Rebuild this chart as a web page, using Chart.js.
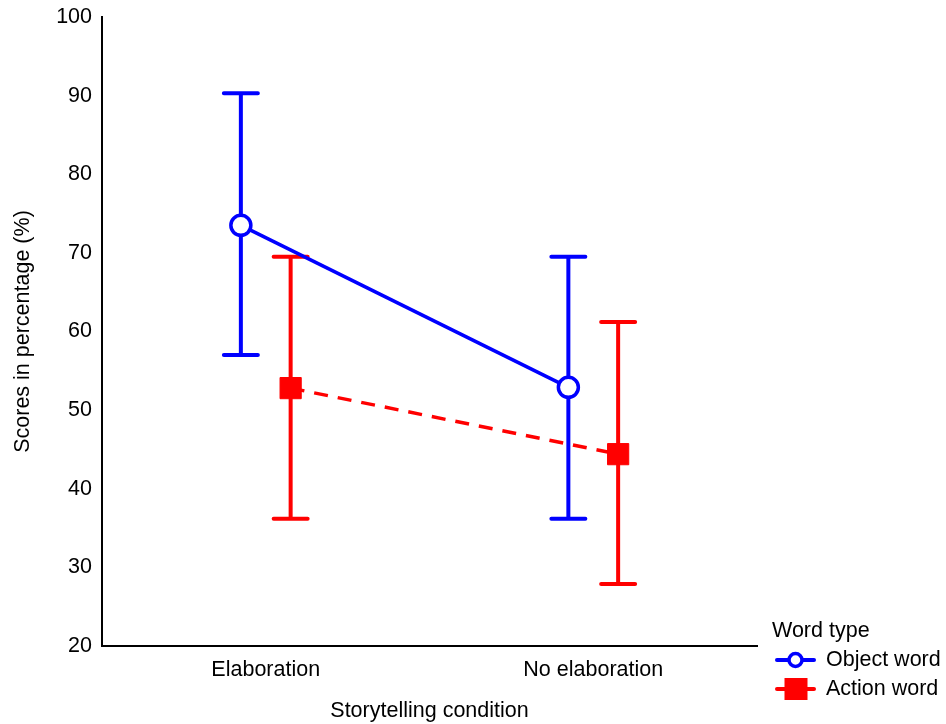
<!DOCTYPE html>
<html>
<head>
    <title>Storytelling condition</title>
    <script src="https://cdn.jsdelivr.net/npm/chart.js"></script>
    <style>
        html, body { margin: 0; padding: 0; background: #fff; }
        #wrap { width: 946px; height: 724px; position: relative; }
    </style>
</head>
<body>
    <div id="wrap"><canvas id="chart"></canvas></div>

    <script>
        // 数据
        const categories = ['Elaboration', 'No elaboration'];
        const seriesNames = ['Object word', 'Action word'];
        const objectMean = [73.5, 52.9];
        const objectUpper = [90.3, 69.5];
        const objectLower = [57.0, 36.2];
        const actionMean = [52.8, 44.4];
        const actionUpper = [69.5, 61.2];
        const actionLower = [36.2, 27.9];
        const yTicks = [20, 30, 40, 50, 60, 70, 80, 90, 100];
        const dodge = 0.076;

        const FONT = 'Liberation Sans, Arial, sans-serif';
        const FS = 21.5;

        function points(mean, upper, lower, shift) {
            return mean.map((m, i) => ({ x: i + 1 + shift, y: m, hi: upper[i], lo: lower[i] }));
        }

        // 误差线
        const errorBars = {
            id: 'errorBars',
            beforeDatasetsDraw(chart) {
                const ctx = chart.ctx;
                const xs = chart.scales.x, ys = chart.scales.y;
                chart.data.datasets.forEach(ds => {
                    ctx.save();
                    ctx.strokeStyle = ds.borderColor;
                    ctx.lineWidth = 4;
                    ctx.lineCap = 'round';
                    ds.data.forEach(p => {
                        const px = xs.getPixelForValue(p.x);
                        const top = ys.getPixelForValue(p.hi);
                        const bot = ys.getPixelForValue(p.lo);
                        ctx.beginPath();
                        ctx.moveTo(px, top); ctx.lineTo(px, bot);
                        ctx.moveTo(px - 17, top); ctx.lineTo(px + 17, top);
                        ctx.moveTo(px - 17, bot); ctx.lineTo(px + 17, bot);
                        ctx.stroke();
                    });
                    ctx.restore();
                });
            }
        };

        // 图例
        const sideLegend = {
            id: 'sideLegend',
            afterDraw(chart) {
                const ctx = chart.ctx;
                ctx.save();
                ctx.fillStyle = '#000';
                ctx.font = FS + 'px ' + FONT;
                ctx.textBaseline = 'middle';
                ctx.fillText('Word type', 772, 631);
                chart.data.datasets.forEach((ds, i) => {
                    const y = 660 + i * 29;
                    ctx.strokeStyle = ds.borderColor;
                    ctx.lineWidth = 4;
                    ctx.lineCap = 'round';
                    ctx.setLineDash([]);
                    ctx.beginPath();
                    ctx.moveTo(777, y); ctx.lineTo(814, y);
                    ctx.stroke();
                    if (ds.pointStyle === 'circle') {
                        ctx.fillStyle = '#fff';
                        ctx.lineWidth = 3.5;
                        ctx.beginPath();
                        ctx.arc(795.5, y, 6.5, 0, Math.PI * 2);
                        ctx.fill();
                        ctx.stroke();
                    } else {
                        ctx.fillStyle = ds.backgroundColor;
                        ctx.fillRect(784.5, y - 11, 23, 22);
                    }
                    ctx.fillStyle = '#000';
                    ctx.fillText(ds.label, 826, y);
                });
                ctx.restore();
            }
        };

        new Chart(document.getElementById('chart'), {
            type: 'scatter',
            data: {
                datasets: [{
                    label: seriesNames[0],
                    data: points(objectMean, objectUpper, objectLower, -dodge),
                    showLine: true,
                    borderColor: '#0000ff',
                    backgroundColor: '#ffffff',
                    borderWidth: 3.5,
                    pointStyle: 'circle',
                    pointRadius: 10,
                    pointBorderWidth: 3.5,
                    pointBackgroundColor: '#ffffff'
                }, {
                    label: seriesNames[1],
                    data: points(actionMean, actionUpper, actionLower, dodge),
                    showLine: true,
                    borderColor: '#ff0000',
                    backgroundColor: '#ff0000',
                    borderWidth: 3.5,
                    borderDash: [14, 10],
                    pointStyle: 'rect',
                    pointRadius: 15,
                    pointBorderWidth: 1,
                    pointBackgroundColor: '#ff0000'
                }]
            },
            options: {
                responsive: true,
                maintainAspectRatio: false,
                animation: false,
                layout: { padding: { left: 0, right: 189, top: 17, bottom: 0 } },
                plugins: {
                    legend: { display: false },
                    tooltip: { enabled: false }
                },
                scales: {
                    x: {
                        type: 'linear',
                        min: 0.5,
                        max: 2.5,
                        grid: { display: false, drawTicks: false },
                        border: { display: true, color: '#000', width: 2 },
                        afterBuildTicks(scale) {
                            scale.ticks = categories.map((c, i) => ({ value: i + 1 }));
                        },
                        afterFit(scale) {
                            scale.height = 78;
                            scale.paddingLeft = 0;
                            scale.paddingRight = 0;
                        },
                        ticks: {
                            color: '#000',
                            padding: 11,
                            font: { family: FONT, size: FS },
                            callback: v => categories[v - 1]
                        },
                        title: {
                            display: true,
                            text: 'Storytelling condition',
                            color: '#000',
                            font: { family: FONT, size: FS },
                            padding: { top: 8, bottom: 0 }
                        }
                    },
                    y: {
                        min: 20,
                        max: 100,
                        grid: { display: false, drawTicks: false },
                        border: { display: true, color: '#000', width: 2 },
                        afterBuildTicks(scale) {
                            scale.ticks = yTicks.map(v => ({ value: v }));
                        },
                        afterFit(scale) {
                            scale.width = 102;
                            scale.paddingTop = 0;
                            scale.paddingBottom = 0;
                        },
                        ticks: {
                            color: '#000',
                            padding: 10,
                            font: { family: FONT, size: FS }
                        },
                        title: {
                            display: true,
                            text: 'Scores in percentage (%)',
                            color: '#000',
                            font: { family: FONT, size: FS },
                            padding: { top: 10, bottom: 10 }
                        }
                    }
                }
            },
            plugins: [errorBars, sideLegend]
        });
    </script>
</body>
</html>
